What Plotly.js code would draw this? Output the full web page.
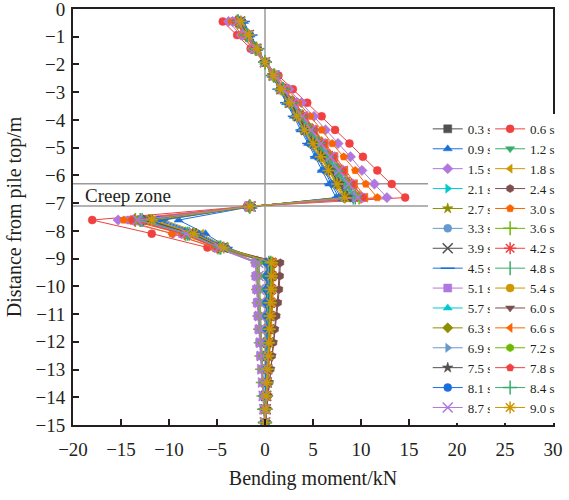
<!DOCTYPE html>
<html>
<head>
<meta charset="utf-8">
<script src="https://cdn.plot.ly/plotly-3.0.1.min.js"></script>
<style>html,body{margin:0;padding:0;background:#fff;}#chart{width:569px;height:500px;}</style>
</head>
<body>
<div id="chart"></div>
<script>
// Depth below pile top (m), shared by all series
const depths = [-0.45, -0.94, -1.43, -1.92, -2.40, -2.89, -3.38, -3.87, -4.36, -4.85, -5.33, -5.82, -6.31, -6.80,
  -7.12, -7.61, -8.10, -8.60,
  -9.15, -9.63, -10.11, -10.59, -11.07, -11.55, -12.03, -12.51, -12.99, -13.47, -13.95, -14.43, -14.91];

const timeLabels = ["0.3 s","0.6 s","0.9 s","1.2 s","1.5 s","1.8 s","2.1 s","2.4 s","2.7 s","3.0 s",
  "3.3 s","3.6 s","3.9 s","4.2 s","4.5 s","4.8 s","5.1 s","5.4 s","5.7 s","6.0 s",
  "6.3 s","6.6 s","6.9 s","7.2 s","7.5 s","7.8 s","8.1 s","8.4 s","8.7 s","9.0 s"];

// Bending moment (kN) per time step
const m0_3 = [-2.7,-1.8,-0.9,0,0.9,1.8,2.7,3.6,4.5,5.4,6.3,7.2,8.1,9.0, -1.6,-12.5,-7.8,-4.4, 0.6,0.58,0.54,0.49,0.44,0.39,0.34,0.28,0.23,0.17,0.12,0.07,0.02];
const m0_6 = [-4.4,-2.9,-1.5,0,1.4,2.9,4.4,5.9,7.3,8.8,10.2,11.7,13.2,14.6, -1.9,-18.0,-11.8,-6.0, 0.9,0.86,0.81,0.74,0.67,0.59,0.5,0.42,0.34,0.26,0.18,0.11,0.04];
const m0_9 = [-2.2,-1.5,-0.7,0,0.7,1.5,2.2,3.0,3.7,4.5,5.2,5.9,6.7,7.4, -1.3,-9.0,-6.2,-3.9, 0.3,0.29,0.27,0.25,0.22,0.2,0.17,0.14,0.11,0.09,0.06,0.04,0.01];
const m1_2 = [-2.6,-1.8,-0.9,0,0.9,1.7,2.6,3.5,4.4,5.3,6.1,7.0,7.9,8.8, -1.5,-12.2,-7.6,-4.3, 0.5,0.48,0.45,0.41,0.37,0.33,0.28,0.24,0.19,0.15,0.1,0.06,0.02];
const m1_5 = [-3.8,-2.5,-1.3,0,1.2,2.5,3.8,5.1,6.3,7.6,8.9,10.1,11.4,12.7, -1.8,-15.3,-9.6,-5.2, -0.9,-0.86,-0.8,-0.73,-0.65,-0.57,-0.49,-0.41,-0.33,-0.25,-0.17,-0.1,-0.03];
const m1_8 = [-2.4,-1.6,-0.8,0,0.8,1.6,2.4,3.2,4.0,4.8,5.6,6.4,7.2,8.1, -1.4,-10.5,-6.6,-4.0, 0.2,0.19,0.18,0.16,0.15,0.13,0.11,0.09,0.08,0.06,0.04,0.02,0.01];
const m2_1 = [-2.8,-1.9,-0.9,0,0.9,1.8,2.8,3.7,4.6,5.6,6.5,7.4,8.3,9.3, -1.6,-13.0,-8.0,-4.7, 0.4,0.38,0.36,0.33,0.3,0.26,0.22,0.19,0.15,0.12,0.08,0.05,0.02];
const m2_4 = [-2.9,-1.9,-1.0,0,0.9,1.9,2.8,3.8,4.8,5.7,6.6,7.6,8.6,9.5, -1.6,-13.2,-8.2,-4.9, 1.6,1.56,1.48,1.36,1.2,1.04,0.88,0.73,0.59,0.45,0.31,0.18,0.06];
const m2_7 = [-2.6,-1.7,-0.9,0,0.8,1.7,2.6,3.4,4.3,5.1,6.0,6.8,7.7,8.5, -1.5,-12.0,-7.5,-4.4, 0.7,0.67,0.63,0.57,0.52,0.46,0.39,0.33,0.27,0.2,0.14,0.08,0.03];
const m3_0 = [-3.5,-2.4,-1.2,0,1.2,2.3,3.5,4.7,5.9,7.0,8.2,9.4,10.5,11.7, -1.8,-14.7,-9.7,-5.3, 1.0,0.96,0.9,0.82,0.74,0.65,0.56,0.47,0.38,0.29,0.2,0.12,0.04];
const m3_3 = [-2.6,-1.8,-0.9,0.1,1.0,1.8,2.7,3.7,4.5,5.5,6.3,7.3,8.2,9.1, -1.6,-12.6,-7.8,-4.5, 0.5,0.48,0.45,0.41,0.37,0.33,0.28,0.24,0.19,0.15,0.1,0.06,0.02];
const m3_6 = [-2.9,-2.0,-1.0,0,1.0,1.9,2.9,3.9,4.9,5.9,6.8,7.8,8.8,9.8, -1.6,-13.5,-8.3,-4.9, -0.8,-0.77,-0.72,-0.66,-0.59,-0.52,-0.45,-0.38,-0.3,-0.23,-0.16,-0.1,-0.03];
const m3_9 = [-2.6,-1.7,-0.9,0,0.9,1.7,2.6,3.5,4.3,5.2,6.1,6.9,7.8,8.7, -1.5,-12.2,-7.6,-4.4, 0.6,0.58,0.54,0.49,0.44,0.39,0.34,0.28,0.23,0.17,0.12,0.07,0.02];
const m4_2 = [-3.0,-2.0,-1.0,0,1.0,2.0,3.0,4.0,5.0,6.0,7.0,8.0,9.0,10.0, -1.7,-13.6,-8.4,-5.0, 0.8,0.77,0.72,0.66,0.59,0.52,0.45,0.38,0.3,0.23,0.16,0.1,0.03];
const m4_5 = [-2.3,-1.5,-0.8,0,0.8,1.5,2.3,3.1,3.9,4.6,5.4,6.2,6.9,7.7, -1.4,-10.8,-6.9,-4.1, 0.3,0.29,0.27,0.25,0.22,0.2,0.17,0.14,0.11,0.09,0.06,0.04,0.01];
const m4_8 = [-2.8,-1.8,-0.9,0,0.9,1.8,2.7,3.7,4.6,5.5,6.4,7.3,8.3,9.2, -1.6,-12.8,-7.9,-4.6, 0.4,0.38,0.36,0.33,0.3,0.26,0.22,0.19,0.15,0.12,0.08,0.05,0.02];
const m5_1 = [-3.1,-2.1,-1.0,0,1.0,2.0,3.1,4.1,5.1,6.2,7.2,8.2,9.2,10.2, -1.7,-14.0,-8.6,-5.0, -1.0,-0.96,-0.9,-0.82,-0.74,-0.65,-0.56,-0.47,-0.38,-0.29,-0.2,-0.12,-0.04];
const m5_4 = [-2.5,-1.6,-0.8,0,0.8,1.6,2.5,3.3,4.1,4.9,5.7,6.6,7.4,8.2, -1.5,-11.6,-7.3,-4.3, 0.9,0.86,0.81,0.74,0.67,0.59,0.5,0.42,0.34,0.26,0.18,0.11,0.04];
const m5_7 = [-2.9,-1.9,-1.0,-0.1,0.9,1.9,2.8,3.8,4.7,5.7,6.7,7.6,8.5,9.5, -1.6,-13.1,-8.1,-4.7, 0.5,0.48,0.45,0.41,0.37,0.33,0.28,0.24,0.19,0.15,0.1,0.06,0.02];
const m6_0 = [-2.7,-1.8,-0.9,0,0.9,1.8,2.7,3.5,4.4,5.3,6.2,7.1,8.0,8.9, -1.5,-12.4,-7.7,-4.5, 1.5,1.46,1.38,1.26,1.12,0.98,0.84,0.7,0.57,0.44,0.3,0.18,0.06];
const m6_3 = [-2.5,-1.7,-0.8,0,0.8,1.7,2.5,3.4,4.2,5.0,5.9,6.7,7.6,8.4, -1.5,-11.9,-7.4,-4.3, 0.8,0.77,0.72,0.66,0.59,0.52,0.45,0.38,0.3,0.23,0.16,0.1,0.03];
const m6_6 = [-3.2,-2.1,-1.1,0,1.0,2.1,3.1,4.2,5.2,6.3,7.3,8.4,9.4,10.5, -1.7,-14.1,-8.7,-5.1, 0.6,0.58,0.54,0.49,0.44,0.39,0.34,0.28,0.23,0.17,0.12,0.07,0.02];
const m6_9 = [-2.8,-1.9,-0.9,0.1,0.9,1.9,2.8,3.7,4.7,5.6,6.5,7.4,8.4,9.3, -1.6,-12.9,-8.0,-4.7, 0.4,0.38,0.36,0.33,0.3,0.26,0.22,0.19,0.15,0.12,0.08,0.05,0.02];
const m7_2 = [-3.0,-2.0,-1.0,0,1.0,2.0,2.9,3.9,4.9,5.9,6.9,7.9,8.9,9.9, -1.7,-13.5,-8.3,-4.9, -0.6,-0.58,-0.54,-0.49,-0.44,-0.39,-0.34,-0.28,-0.23,-0.17,-0.12,-0.07,-0.02];
const m7_5 = [-2.6,-1.7,-0.9,0,0.8,1.7,2.6,3.4,4.3,5.2,6.0,6.9,7.7,8.6, -1.5,-12.1,-7.5,-4.4, 0.5,0.48,0.45,0.41,0.37,0.33,0.28,0.24,0.19,0.15,0.1,0.06,0.02];
const m7_8 = [-3.1,-2.0,-1.0,0,1.0,2.0,3.0,4.1,5.1,6.1,7.1,8.1,9.1,10.2, -1.7,-13.8,-8.5,-5.0, 0.7,0.67,0.63,0.57,0.52,0.46,0.39,0.33,0.27,0.2,0.14,0.08,0.03];
const m8_1 = [-2.4,-1.6,-0.8,0,0.8,1.6,2.4,3.2,4.0,4.7,5.5,6.3,7.1,7.9, -1.4,-11.2,-7.1,-4.2, 0.2,0.19,0.18,0.16,0.15,0.13,0.11,0.09,0.08,0.06,0.04,0.02,0.01];
const m8_4 = [-2.8,-1.9,-0.9,0,0.9,1.9,2.8,3.7,4.7,5.6,6.5,7.5,8.4,9.4, -1.6,-13.0,-8.1,-4.7, 0.6,0.58,0.54,0.49,0.44,0.39,0.34,0.28,0.23,0.17,0.12,0.07,0.02];
const m8_7 = [-2.9,-1.9,-1.0,0,1.0,1.9,2.9,3.9,4.8,5.8,6.8,7.7,8.7,9.7, -1.6,-13.3,-8.2,-4.8, -0.7,-0.67,-0.63,-0.57,-0.52,-0.46,-0.39,-0.33,-0.27,-0.2,-0.14,-0.08,-0.03];
const m9_0 = [-2.5,-1.7,-0.8,0,0.8,1.6,2.5,3.3,4.1,5.0,5.8,6.6,7.5,8.3, -1.5,-11.8,-7.4,-4.3, 0.7,0.67,0.63,0.57,0.52,0.46,0.39,0.33,0.27,0.2,0.14,0.08,0.03];

const series = [m0_3,m0_6,m0_9,m1_2,m1_5,m1_8,m2_1,m2_4,m2_7,m3_0,m3_3,m3_6,m3_9,m4_2,m4_5,
  m4_8,m5_1,m5_4,m5_7,m6_0,m6_3,m6_6,m6_9,m7_2,m7_5,m7_8,m8_1,m8_4,m8_7,m9_0];

// Reference lines bounding the creep zone (m)
const creepBounds = [-6.3, -7.1];

// Styles
const palette = ["#515151","#F14040","#1A6FDF","#37AD6B","#B177DE","#CC9900","#00CBCC","#7D4E4E","#8E8E00","#FB6501","#6699CC","#6FB802"];
const symbols = ["square","circle","triangle-up","triangle-down","diamond","triangle-left","triangle-right","hexagon",
  "star","pentagon","circle","cross-thin-open","x-thin-open","asterisk-open","line-ew-open","line-ns-open"];
const thin = {"cross-thin-open":1,"x-thin-open":1,"asterisk-open":1,"line-ew-open":1,"line-ns-open":1};

const traces = series.map((vals, i) => {
  const color = palette[i % palette.length];
  const sym = symbols[i % symbols.length];
  const isThin = !!thin[sym];
  return {
    type: "scatter",
    mode: "lines+markers",
    name: timeLabels[i],
    x: vals,
    y: depths,
    legend: (i % 2 === 0) ? "legend" : "legend2",
    line: {color: color, width: 1},
    marker: {symbol: sym, color: color, size: isThin ? 10 : 8,
             line: {color: color, width: isThin ? 1.5 : 0.5}}
  };
});

const axisColor = "#231f20";
const fontFam = "Liberation Serif, serif";

const shapes = [
  {type:"line", xref:"x", yref:"paper", x0:0, x1:0, y0:0, y1:1, layer:"below", line:{color:"#9a9a9a", width:1.5}}
].concat(creepBounds.map(v => ({type:"line", xref:"paper", yref:"y", x0:0, x1:1, y0:v, y1:v, layer:"below", line:{color:"#9a9a9a", width:1.5}})));

const legendBase = {
  bgcolor: "#ffffff", borderwidth: 0, font: {family: fontFam, size: 13, color: "#231f20"},
  yanchor: "bottom", y: 0.005, xanchor: "left", itemwidth: 30, tracegroupgap: 0
};

const layout = {
  width: 569, height: 500,
  margin: {l: 73, r: 9, t: 9, b: 75},
  paper_bgcolor: "#ffffff", plot_bgcolor: "#ffffff",
  font: {family: fontFam, color: "#231f20"},
  showlegend: true,
  legend: Object.assign({}, legendBase, {x: 0.739}),
  legend2: Object.assign({}, legendBase, {x: 0.869}),
  xaxis: {
    range: [-20, 30], tick0: -20, dtick: 5, ticks: "inside", ticklen: 6, tickwidth: 2, tickcolor: axisColor,
    showline: true, linewidth: 2, linecolor: axisColor, mirror: true, showgrid: false, zeroline: false,
    tickfont: {family: fontFam, size: 19, color: axisColor}, ticklabelstandoff: 6, ticklabeloverflow: "allow",
    title: {text: "Bending moment/kN", font: {family: fontFam, size: 20, color: axisColor}, standoff: 12}
  },
  yaxis: {
    range: [-15, 0], tick0: 0, dtick: 1, ticks: "inside", ticklen: 6, tickwidth: 2, tickcolor: axisColor,
    showline: true, linewidth: 2, linecolor: axisColor, mirror: true, showgrid: false, zeroline: false,
    tickfont: {family: fontFam, size: 19, color: axisColor}, ticklabelstandoff: 2, ticklabeloverflow: "allow",
    title: {text: "Distance from pile top/m", font: {family: fontFam, size: 20, color: axisColor}, standoff: 8}
  },
  shapes: shapes,
  annotations: [
    {text: "Creep zone", x: -19, y: -6.72, xref: "x", yref: "y", xanchor: "left", yanchor: "middle",
     showarrow: false, font: {family: fontFam, size: 19, color: axisColor}}
  ]
};

Plotly.newPlot("chart", traces, layout, {staticPlot: true, displayModeBar: false});
</script>
</body>
</html>
